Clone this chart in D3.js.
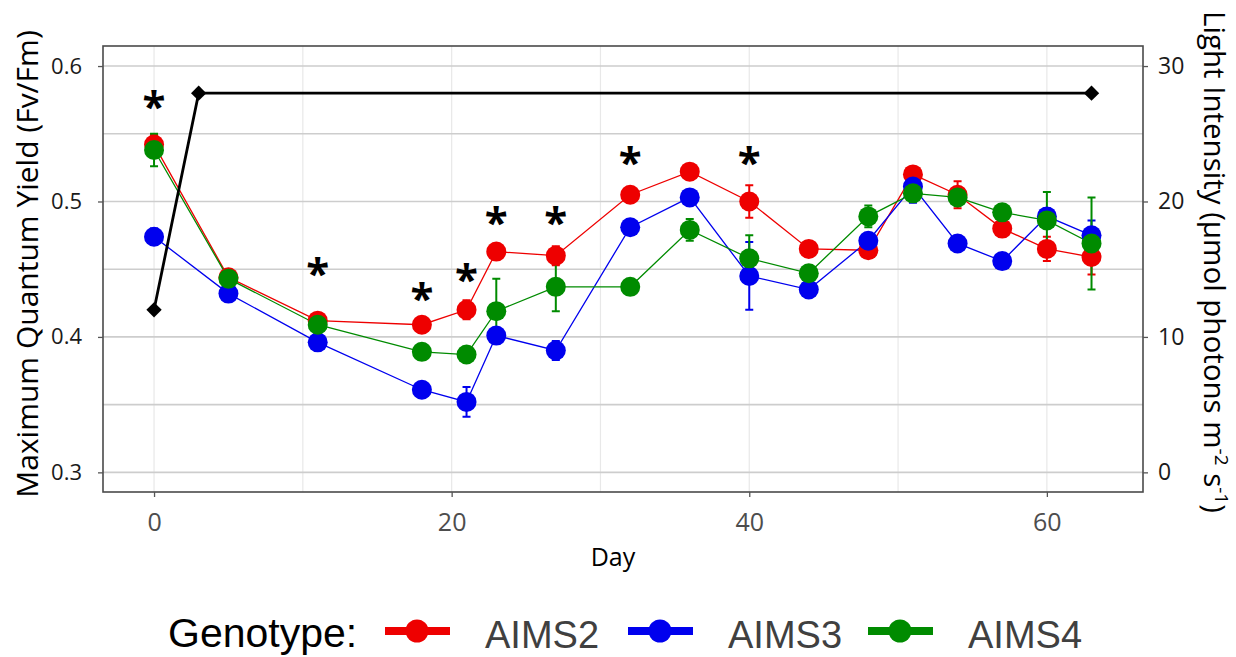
<!DOCTYPE html>
<html>
<head>
<meta charset="utf-8">
<script src="https://cdn.jsdelivr.net/npm/d3@7"></script>
<style>
  body { margin: 0; background: #fff; }
  svg { display: block; }
</style>
</head>
<body>
<div id="chart"></div>
<script>

// sampling days (x axis)
var days = [0, 5, 11, 18, 21, 23, 27, 32, 36, 40, 44, 48, 51, 54, 57, 60, 63];

// Fv/Fm means + error per genotype
var aims2 = [0.542, 0.444, 0.412, 0.409, 0.420, 0.463, 0.460, 0.505, 0.522, 0.500, 0.465, 0.464, 0.520, 0.505, 0.480, 0.465, 0.459];
var aims2Err = [0.007, 0.003, 0.003, 0.003, 0.007, 0.004, 0.007, 0.004, 0.004, 0.012, 0.003, 0.004, 0.004, 0.010, 0.006, 0.009, 0.013];
var aims3 = [0.474, 0.432, 0.396, 0.361, 0.352, 0.401, 0.390, 0.481, 0.503, 0.445, 0.435, 0.471, 0.511, 0.469, 0.456, 0.489, 0.475];
var aims3Err = [0.006, 0.003, 0.003, 0.003, 0.011, 0.004, 0.007, 0.003, 0.004, 0.025, 0.003, 0.004, 0.012, 0.004, 0.003, 0.006, 0.011];
var aims4 = [0.538, 0.443, 0.409, 0.389, 0.387, 0.419, 0.437, 0.437, 0.479, 0.458, 0.447, 0.489, 0.506, 0.503, 0.492, 0.486, 0.469];
var aims4Err = [0.012, 0.003, 0.003, 0.003, 0.003, 0.024, 0.018, 0.003, 0.008, 0.017, 0.003, 0.008, 0.004, 0.004, 0.004, 0.021, 0.034];

var genotypes = ["AIMS2", "AIMS3", "AIMS4"];
var genoColors = ["#ee0000", "#0000ee", "#008b00"];

// light intensity (right axis)
var lightDays = [0, 3, 63];
var lightVals = [12, 28, 28];

// significance stars (day, height in Fv/Fm units)
var starDays = [0, 11, 18, 21, 23, 27, 32, 40];
var starPos = [0.574, 0.451, 0.432, 0.446, 0.488, 0.488, 0.533, 0.533];

// tick labels
var xTicks = [0, 20, 40, 60];
var xGrid = [0, 10, 20, 30, 40, 50, 60];
var yTicks = [0.3, 0.4, 0.5, 0.6];
var yGrid = [0.3, 0.35, 0.4, 0.45, 0.5, 0.55, 0.6];
var lightTicks = [0, 10, 20, 30];


var W = 1236, H = 657;
var panel = {left: 103, right: 1143, top: 46, bottom: 492};

var svg = d3.select("#chart").append("svg")
    .attr("width", W)
    .attr("height", H);

var x = d3.scaleLinear().domain([-3.43, 66.46]).range([panel.left, panel.right]);
var y = d3.scaleLinear().domain([0.2855, 0.6148]).range([panel.bottom, panel.top]);
// right axis lines up 0.3 -> 0 and 0.6 -> 30
var yLight = d3.scaleLinear()
    .domain(y.domain().map(function(v){ return (v - 0.3) * 100; }))
    .range([panel.bottom, panel.top]);

// grid
svg.append("g").selectAll("line")
    .data(xGrid).enter().append("line")
    .attr("x1", function(d){ return x(d); })
    .attr("x2", function(d){ return x(d); })
    .attr("y1", panel.top).attr("y2", panel.bottom)
    .attr("stroke", "#e8e8e8").attr("stroke-width", 1.2);

svg.append("g").selectAll("line")
    .data(yGrid).enter().append("line")
    .attr("x1", panel.left).attr("x2", panel.right)
    .attr("y1", function(d){ return y(d); })
    .attr("y2", function(d){ return y(d); })
    .attr("stroke", "#cdcdcd").attr("stroke-width", 1.6);

// panel border
svg.append("rect")
    .attr("x", panel.left).attr("y", panel.top)
    .attr("width", panel.right - panel.left)
    .attr("height", panel.bottom - panel.top)
    .attr("fill", "none")
    .attr("stroke", "#4a4a4a").attr("stroke-width", 1.6);

// axes
var gx = svg.append("g")
    .attr("transform", "translate(0," + panel.bottom + ")")
    .call(d3.axisBottom(x).tickValues(xTicks).tickSize(5).tickPadding(16));
var gy = svg.append("g")
    .attr("transform", "translate(" + panel.left + ",0)")
    .call(d3.axisLeft(y).tickValues(yTicks).tickSize(5).tickPadding(16).tickFormat(d3.format(".1f")));
var gyr = svg.append("g")
    .attr("transform", "translate(" + panel.right + ",0)")
    .call(d3.axisRight(yLight).tickValues(lightTicks).tickSize(5).tickPadding(10));

[gx, gy, gyr].forEach(function(g){
  g.select(".domain").remove();
  g.selectAll(".tick line").attr("stroke", "#555").attr("stroke-width", 1.3);
  g.selectAll(".tick text").attr("font-family", "Open Sans").attr("fill", "#1a1a1a");
});
gx.selectAll(".tick text").attr("font-size", 25).attr("fill", "#4d4d4d");
gy.selectAll(".tick text").attr("font-size", 22);
gyr.selectAll(".tick text").attr("font-size", 23);

// titles
svg.append("text")
    .attr("transform", "translate(38,264) rotate(-90)")
    .attr("text-anchor", "middle")
    .attr("font-family", "Open Sans").attr("font-size", 30)
    .attr("fill", "#000")
    .text("Maximum Quantum Yield (Fv/Fm)");

var rt = svg.append("text")
    .attr("transform", "translate(1204,262) rotate(90)")
    .attr("text-anchor", "middle")
    .attr("font-family", "Open Sans").attr("font-size", 29.5)
    .attr("fill", "#000");
rt.append("tspan").text("Light Intensity (\u00b5mol photons m");
rt.append("tspan").attr("font-size", 19).attr("dy", -11).text("-2");
rt.append("tspan").attr("dy", 11).text(" s");
rt.append("tspan").attr("font-size", 19).attr("dy", -11).text("-1");
rt.append("tspan").attr("dy", 11).text(")");

svg.append("text")
    .attr("x", 613).attr("y", 566)
    .attr("text-anchor", "middle")
    .attr("font-family", "Open Sans").attr("font-size", 25)
    .attr("fill", "#000")
    .text("Day");

// series
var series = [aims2, aims3, aims4].map(function(vals, k){
  var errs = [aims2Err, aims3Err, aims4Err][k];
  return {
    name: genotypes[k],
    color: genoColors[k],
    pts: days.map(function(d, i){ return {day: d, v: vals[i], e: errs[i]}; })
  };
});

var line = d3.line()
    .x(function(d){ return x(d.day); })
    .y(function(d){ return y(d.v); });

svg.append("g").selectAll("path")
    .data(series).enter().append("path")
    .attr("d", function(s){ return line(s.pts); })
    .attr("fill", "none")
    .attr("stroke", function(s){ return s.color; })
    .attr("stroke-width", 1.3);

// error bars
var eb = svg.append("g").selectAll("g")
    .data(series).enter().append("g")
    .attr("stroke", function(s){ return s.color; })
    .attr("stroke-width", 2);
eb.selectAll("path")
    .data(function(s){ return s.pts; }).enter().append("path")
    .attr("fill", "none")
    .attr("d", function(d){
      var cx = x(d.day), t = y(d.v + d.e), b = y(d.v - d.e);
      return "M" + (cx - 4) + "," + t + "H" + (cx + 4) +
             "M" + cx + "," + t + "V" + b +
             "M" + (cx - 4) + "," + b + "H" + (cx + 4);
    });

// points
svg.append("g").selectAll("g")
    .data(series).enter().append("g")
    .attr("fill", function(s){ return s.color; })
    .selectAll("circle")
    .data(function(s){ return s.pts; }).enter().append("circle")
    .attr("cx", function(d){ return x(d.day); })
    .attr("cy", function(d){ return y(d.v); })
    .attr("r", 10);

// light intensity line on top
var light = lightDays.map(function(d, i){ return {day: d, v: lightVals[i]}; });
svg.append("path")
    .datum(light)
    .attr("d", d3.line().x(function(d){ return x(d.day); }).y(function(d){ return yLight(d.v); }))
    .attr("fill", "none")
    .attr("stroke", "#000")
    .attr("stroke-width", 2.8);
svg.append("g").selectAll("path")
    .data(light).enter().append("path")
    .attr("transform", function(d){ return "translate(" + x(d.day) + "," + yLight(d.v) + ")"; })
    .attr("d", d3.symbol().type(d3.symbolDiamond2).size(150))
    .attr("fill", "#000");

// stars
svg.append("g").selectAll("text")
    .data(starDays).enter().append("text")
    .attr("x", function(d){ return x(d); })
    .attr("y", function(d, i){ return y(starPos[i]); })
    .attr("dy", "0.47em")
    .attr("text-anchor", "middle")
    .attr("font-family", "Open Sans").attr("font-weight", 700).attr("font-size", 42)
    .attr("fill", "#000")
    .text("*");

// legend
var leg = svg.append("g");
leg.append("text")
    .attr("x", 168).attr("y", 647)
    .attr("font-family", "Liberation Sans, Arial").attr("font-size", 41)
    .attr("fill", "#000")
    .text("Genotype:");

var keyX = [385, 628, 868];
var legItem = leg.selectAll("g.item")
    .data(genotypes).enter().append("g")
    .attr("class", "item")
    .attr("transform", function(d, i){ return "translate(" + keyX[i] + ",631)"; });
legItem.append("line")
    .attr("x1", 0).attr("x2", 65)
    .attr("stroke", function(d, i){ return genoColors[i]; })
    .attr("stroke-width", 8);
legItem.append("circle")
    .attr("cx", 32).attr("r", 11.5)
    .attr("fill", function(d, i){ return genoColors[i]; });
legItem.append("text")
    .attr("x", 100).attr("y", 17)
    .attr("font-family", "Liberation Sans, Arial").attr("font-size", 38)
    .attr("fill", "#404040")
    .text(function(d){ return d; });

</script>
</body>
</html>
